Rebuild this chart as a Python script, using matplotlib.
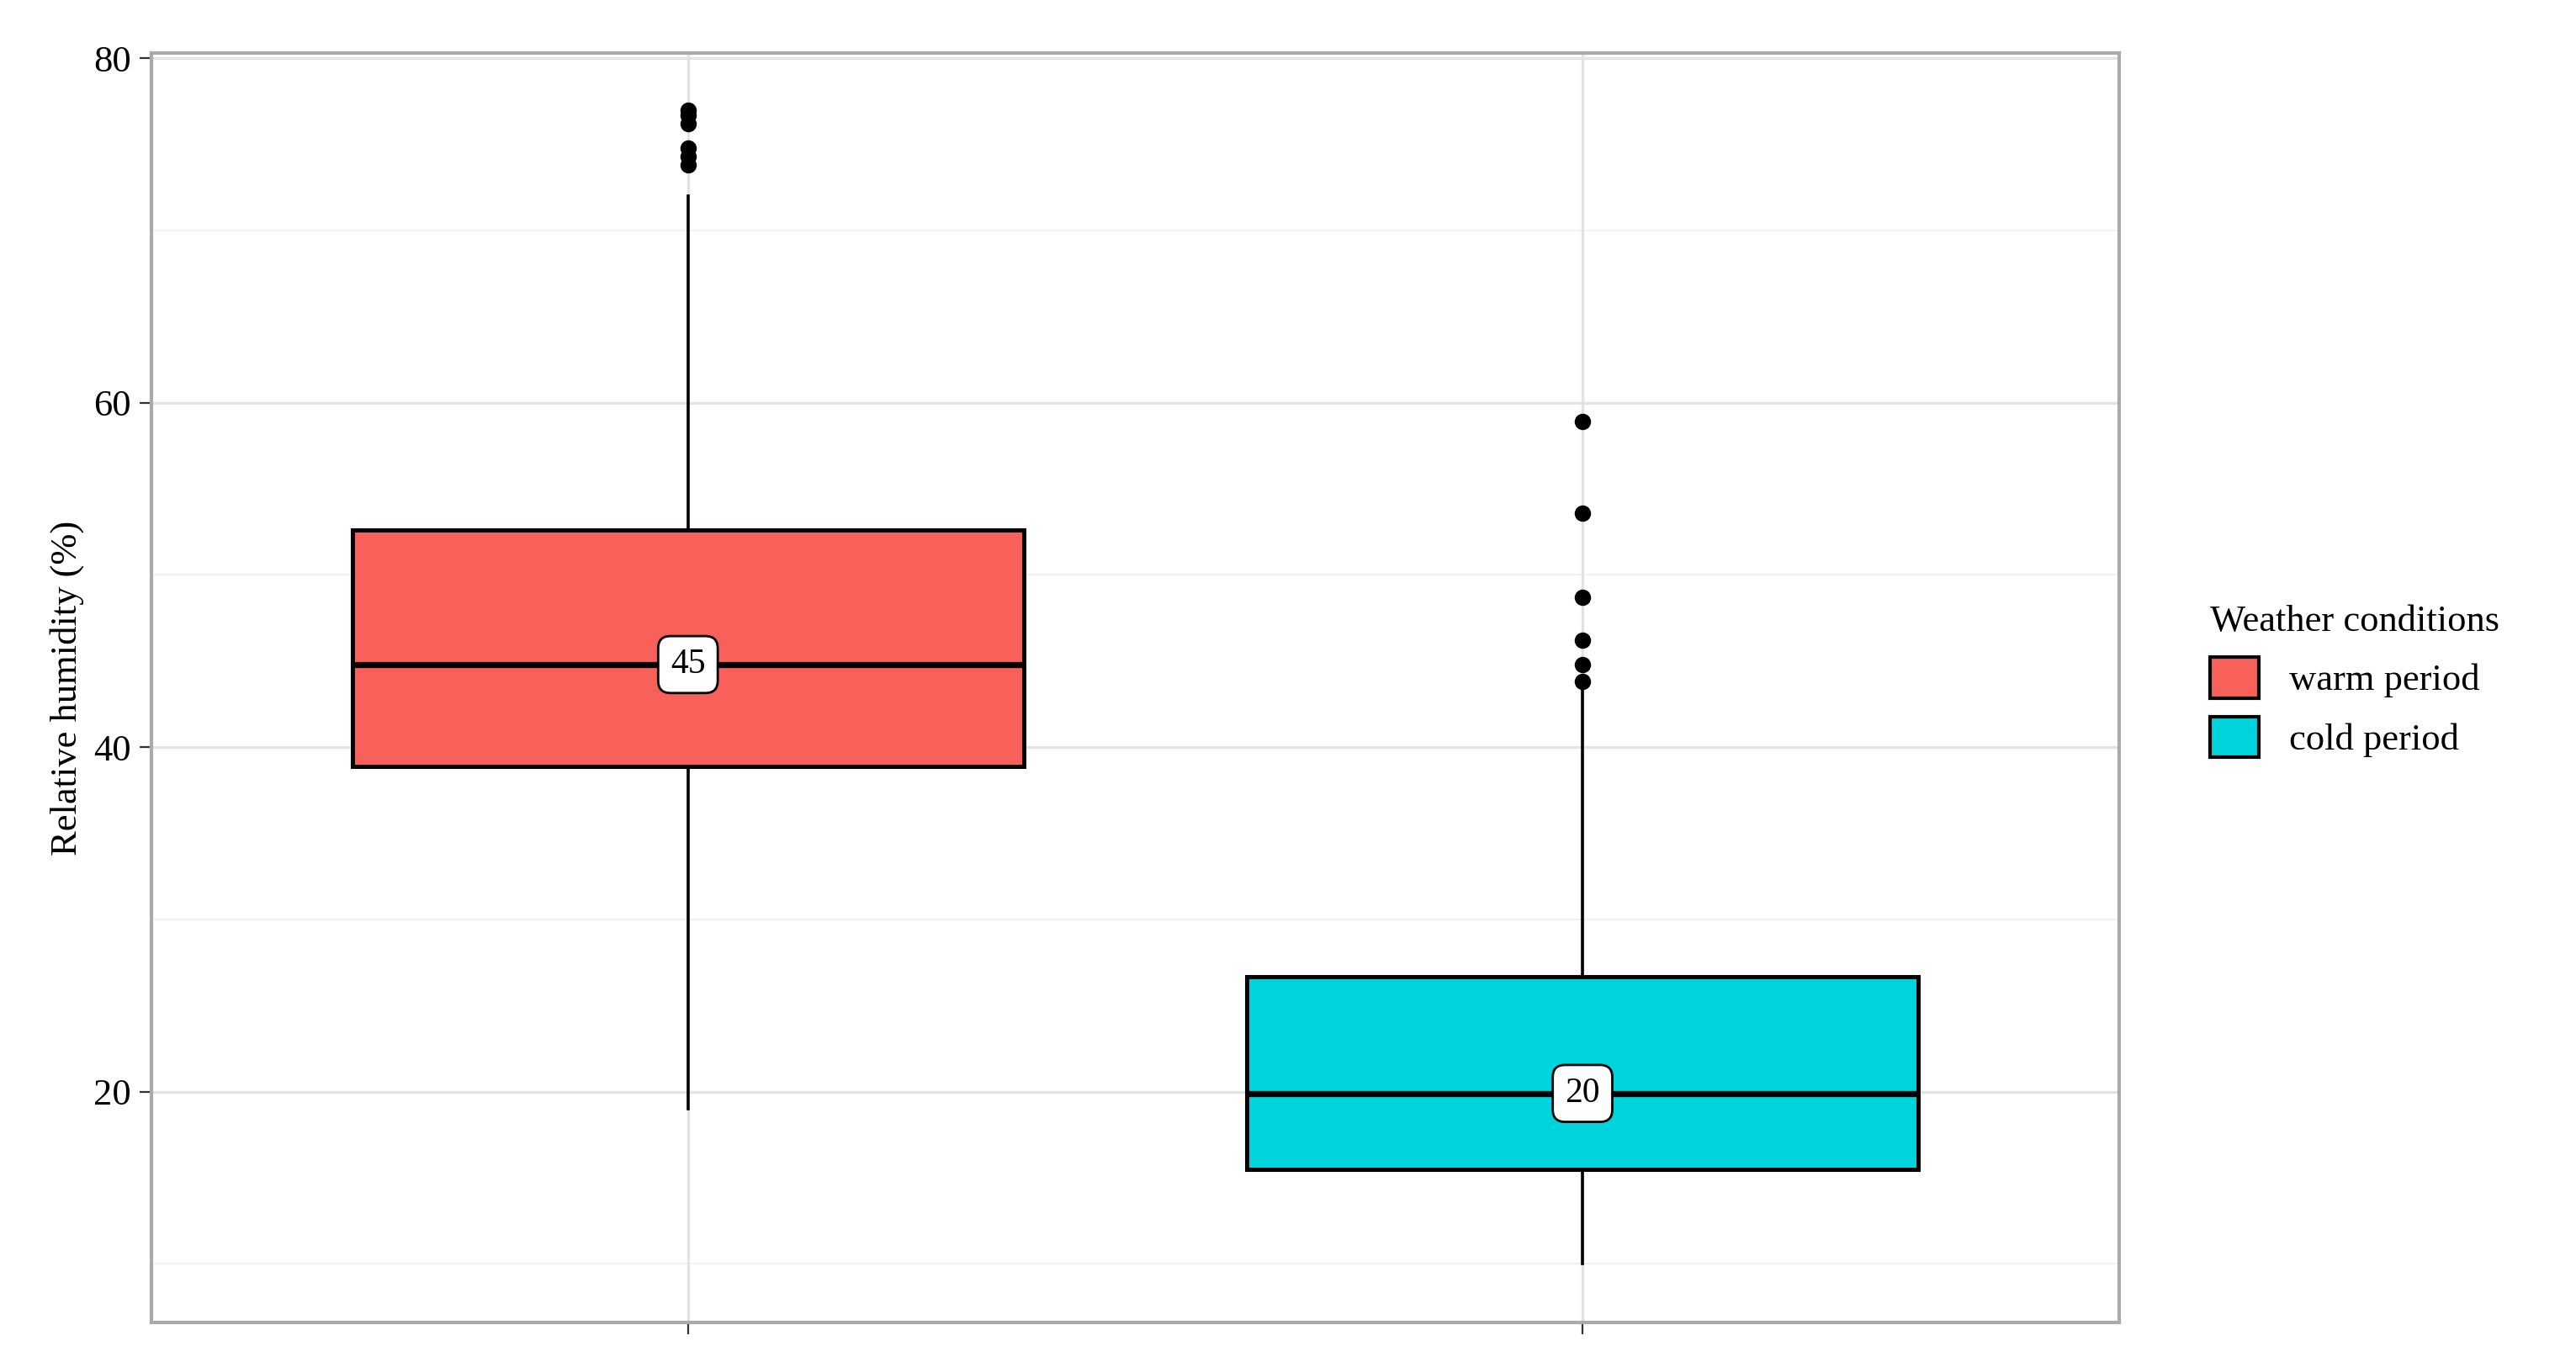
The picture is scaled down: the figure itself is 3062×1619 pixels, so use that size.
import matplotlib
matplotlib.use("Agg")
import matplotlib.pyplot as plt
from matplotlib.patches import Patch

plt.rcParams['font.family'] = ['Liberation Serif', 'DejaVu Serif']

groups = ["warm period", "cold period"]
colors = ["#F8605A", "#00D3DC"]
whislo = [19.0, 10.0]
q1 = [38.9, 15.5]
med = [44.8, 19.9]
q3 = [52.6, 26.7]
whishi = [72.0, 43.5]
fliers = [[73.8, 74.3, 74.8, 76.2, 76.7, 77.0],
          [43.8, 44.8, 46.2, 48.7, 53.6, 58.9]]
labels = ["45", "20"]

fig = plt.figure(figsize=(15.31, 8.095), dpi=200)
ax = fig.add_axes([0.0587, 0.029, 0.764, 0.932])
for y in [10, 30, 50, 70]:
    ax.axhline(y, color="#F2F2F2", lw=0.8, zorder=0)
for y in [20, 40, 60, 80]:
    ax.axhline(y, color="#E3E3E3", lw=1.2, zorder=0)
for x in [1, 2]:
    ax.axvline(x, color="#E3E3E3", lw=1.2, zorder=0)

stats = [dict(whislo=whislo[i], q1=q1[i], med=med[i], q3=q3[i], whishi=whishi[i],
              fliers=fliers[i]) for i in range(2)]
bp = ax.bxp(stats, positions=[1, 2], widths=0.75, patch_artist=True, showcaps=False,
            boxprops=dict(edgecolor="black", linewidth=1.8),
            medianprops=dict(color="black", linewidth=2.6),
            whiskerprops=dict(color="black", linewidth=1.3),
            flierprops=dict(marker="o", markerfacecolor="black", markeredgecolor="black", markersize=6))
for p, c in zip(bp["boxes"], colors):
    p.set_facecolor(c)
for i in range(2):
    ax.text(i + 1, med[i], labels[i], ha="center", va="center", fontsize=15, zorder=5,
            bbox=dict(boxstyle="round,pad=0.35", fc="white", ec="black", lw=1))

ax.set_xlim(0.4, 2.6)
ax.set_ylim(6.6, 80.3)
ax.set_yticks([20, 40, 60, 80])
ax.set_xticks([1, 2])
ax.set_xticklabels(["", ""])
ax.tick_params(axis="both", labelsize=16, color="#333333", length=5)
ax.set_ylabel("Relative humidity (%)", fontsize=16)
for s in ax.spines.values():
    s.set_color("#AAAAAA")
    s.set_linewidth(1.5)

handles = [Patch(facecolor=c, edgecolor="black", lw=1.5) for c in colors]
leg = fig.legend(handles, groups, title="Weather conditions", loc="center left",
                 bbox_to_anchor=(0.845, 0.5), frameon=False, fontsize=16, title_fontsize=16,
                 handlelength=1.3, handleheight=1.3, alignment="left")
fig.savefig("out.png", dpi=200)
